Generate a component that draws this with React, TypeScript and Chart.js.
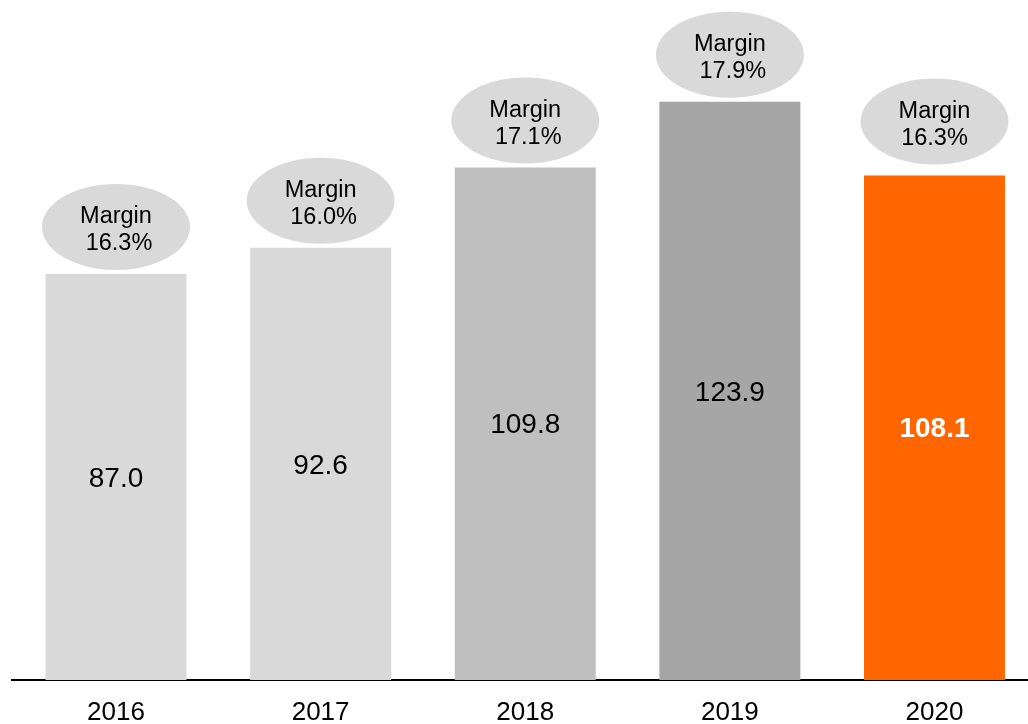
import React, { useEffect, useRef } from "react";
import { Chart, registerables } from "chart.js";

Chart.register(...registerables);

// ---- data ----
const years: string[] = ["2016", "2017", "2018", "2019", "2020"];
const revenue: number[] = [87.0, 92.6, 109.8, 123.9, 108.1];
const margins: string[] = ["16.3%", "16.0%", "17.1%", "17.9%", "16.3%"];

// ---- styles ----
const barColors = ["#d9d9d9", "#d9d9d9", "#bfbfbf", "#a6a6a6", "#ff6600"];
const bubbleGaps = [4, 4, 4, 4, 11];
const pctShift = [3, 3, 3, 3, 0];
const FONT = "'Liberation Sans', Arial, Helvetica, sans-serif";

const labelPlugin = {
  id: "marginLabels",
  afterDatasetsDraw(chart: any) {
    const ctx = chart.ctx as CanvasRenderingContext2D;
    const meta = chart.getDatasetMeta(0);
    const yScale = chart.scales.y;
    const base = yScale.getPixelForValue(0);
    ctx.save();
    meta.data.forEach((bar: any, i: number) => {
      const x = bar.x;
      const top = bar.y;
      // ellipse bubble
      const cy = top - bubbleGaps[i] - 43;
      ctx.beginPath();
      ctx.ellipse(x, cy, 74, 43, 0, 0, Math.PI * 2);
      ctx.fillStyle = "#d9d9d9";
      ctx.fill();
      ctx.fillStyle = "#000000";
      ctx.textAlign = "center";
      ctx.textBaseline = "middle";
      ctx.font = `23.5px ${FONT}`;
      ctx.fillText("Margin", x, cy - 10);
      ctx.fillText(margins[i], x + pctShift[i], cy + 17);
      // value label
      const last = i === revenue.length - 1;
      ctx.font = `${last ? "bold " : ""}28px ${FONT}`;
      ctx.fillStyle = last ? "#ffffff" : "#000000";
      ctx.fillText(revenue[i].toFixed(1), x, (top + base) / 2 + 2);
    });
    ctx.restore();
  },
};

export default function App() {
  const ref = useRef<HTMLCanvasElement | null>(null);
  useEffect(() => {
    if (!ref.current) return;
    const chart = new Chart(ref.current, {
      type: "bar",
      data: {
        datasets: [
          {
            data: revenue.map((v, i) => ({ x: i, y: v })),
            backgroundColor: barColors,
            borderWidth: 0,
            barPercentage: 0.689,
            categoryPercentage: 1,
          },
        ],
      },
      options: {
        responsive: false,
        animation: false,
        devicePixelRatio: 1,
        layout: { padding: { left: 12, right: 0, top: 0, bottom: 0 } },
        plugins: {
          legend: { display: false },
          tooltip: { enabled: false },
        },
        scales: {
          x: {
            type: "linear",
            offset: false,
            min: -0.5082,
            max: 4.457,
            grid: { display: false, drawTicks: false, offset: false },
            border: { display: true, color: "#000000", width: 2 },
            afterBuildTicks: (scale: any) => {
              scale.ticks = years.map((_, i) => ({ value: i }));
            },
            afterFit: (scale: any) => {
              scale.height = 44;
            },
            ticks: {
              autoSkip: false,
              maxRotation: 0,
              padding: 17,
              color: "#000000",
              font: { family: FONT, size: 26 },
              callback: (v: any) => years[Math.round(Number(v))] ?? "",
            },
          },
          y: {
            display: false,
            min: 0,
            max: 145.7,
          },
        },
      },
      plugins: [labelPlugin],
    } as any);
    return () => chart.destroy();
  }, []);
  return (
    <div style={{ position: "fixed", left: 0, top: 0, width: 1028, height: 724, background: "#fff" }}>
      <canvas ref={ref} width={1028} height={724} style={{ display: "block" }} />
    </div>
  );
}
